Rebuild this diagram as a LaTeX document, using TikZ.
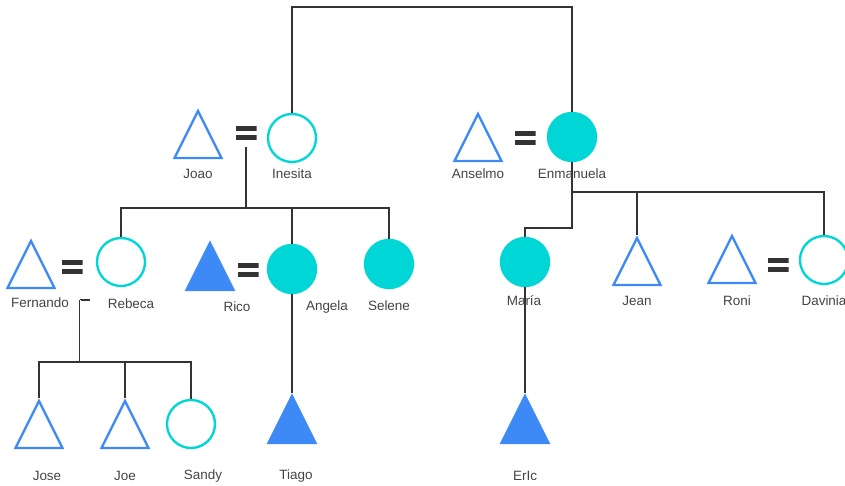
\documentclass[tikz,border=0pt]{standalone}
\usepackage{fontspec}
\setmainfont{Liberation Sans}
\usetikzlibrary{shapes.geometric}
\definecolor{blueM}{RGB}{61,138,247}
\definecolor{cyanF}{RGB}{0,214,214}
\definecolor{linecol}{RGB}{51,51,51}
\definecolor{txtcol}{RGB}{68,68,68}
\tikzset{
  tri/.style={isosceles triangle, isosceles triangle stretches, shape border rotate=90,
    minimum width=1.41cm, minimum height=1.41cm, inner sep=0pt, draw=blueM, line width=2pt},
  trifull/.style={tri, fill=blueM},
  circ/.style={circle, minimum size=1.44cm, inner sep=0pt, draw=cyanF, line width=2pt},
  circfull/.style={circ, fill=cyanF},
  eqsign/.style={rectangle, minimum width=0.63cm, minimum height=0.4cm, inner sep=0pt,
    path picture={
      \fill[linecol] (path picture bounding box.north west) rectangle ([yshift=-0.14cm]path picture bounding box.north east);
      \fill[linecol] (path picture bounding box.south west) rectangle ([yshift=0.14cm]path picture bounding box.south east);}},
  pname/.style={text=txtcol, font=\fontsize{11.5}{13}\selectfont, inner sep=1pt},
  link/.style={draw=linecol, line width=1.2pt}
}
\begin{document}
\begin{tikzpicture}[x=0.03cm, y=-0.03cm]
	\useasboundingbox (0,0) rectangle (845,486);
	% grandparents
	\node[tri] (joao) at (198,143.5) {};
	\node[eqsign] (eq1) at (246,133) {};
	\node[circ] (inesita) at (292,138) {};
	\node[tri] (anselmo) at (478,146.5) {};
	\node[eqsign] (eq2) at (525,138) {};
	\node[circfull] (enmanuela) at (572,137) {};
	% second row
	\node[tri] (fernando) at (31,273.5) {};
	\node[eqsign] (eq3) at (72,267) {};
	\node[circ] (rebeca) at (121,262) {};
	\node[trifull] (rico) at (210,275.5) {};
	\node[eqsign] (eq4) at (248,270) {};
	\node[circfull] (angela) at (292,269) {};
	\node[circfull] (selene) at (389,264) {};
	\node[circfull] (maria) at (525,262) {};
	\node[tri] (jean) at (637,270.5) {};
	\node[tri] (roni) at (732,268.5) {};
	\node[eqsign] (eq5) at (778,265) {};
	\node[circ] (davinia) at (824,260) {};
	% third row
	\node[tri] (jose) at (39,433.5) {};
	\node[tri] (joe) at (125,433.5) {};
	\node[circ] (sandy) at (191,424) {};
	\node[trifull] (tiago) at (292,428.5) {};
	\node[trifull] (eric) at (525,428.5) {};

	% lines
	\draw[link] (inesita) -- (inesita |- 0,7) -| (enmanuela);
	\draw[link] ([yshift=-0.2cm]eq1.south) -- (eq1 |- 0,208);
	\draw[link] (rebeca) -- (rebeca |- 0,208) -| (selene);
	\draw[link] (angela) -- (angela |- 0,208);
	\draw[link] (enmanuela) -- (enmanuela |- 0,192) -| (davinia);
	\draw[link] (jean) -- (jean |- 0,192);
	\draw[link] (enmanuela |- 0,192) -- (enmanuela |- 0,228) -| (maria);
	\draw[link] (angela) -- (tiago);
	\draw[link] (maria) -- (eric);
	\coordinate (fr) at (80,300);
	\draw[link] (fr) -- ++(10,0);
	\draw[link, double=white, double distance=0.8pt, line width=0.8pt] (fr) -- (fr |- 0,362);
	\draw[link] (jose) -- (jose |- 0,362) -| (sandy);
	\draw[link] (joe) -- (joe |- 0,362);

	% names
	\node[pname] (joaoL) at (198,174) {Joao};
	\node[pname] (inesitaL) at (292,174) {Inesita};
	\node[pname] (anselmoL) at (478,174) {Anselmo};
	\node[pname] (enmanuelaL) at (572,174) {Enmanuela};
	\node[pname] (fernandoL) at (40,303) {Fernando};
	\node[pname] (rebecaL) at (131,304) {Rebeca};
	\node[pname] (ricoL) at (237,307) {Rico};
	\node[pname] (angelaL) at (327,307) {Angela};
	\node[pname] (seleneL) at (389,306) {Selene};
	\node[pname] (mariaL) at (524,301) {María};
	\node[pname] (jeanL) at (637,301) {Jean};
	\node[pname] (roniL) at (737,301) {Roni};
	\node[pname] (daviniaL) at (824,301) {Davinia};
	\node[pname] (joseL) at (47,476) {Jose};
	\node[pname] (joeL) at (125,476) {Joe};
	\node[pname] (sandyL) at (203,476) {Sandy};
	\node[pname] (tiagoL) at (296,476) {Tiago};
	\node[pname] (ericL) at (525,476) {ErIc};
\end{tikzpicture}
\end{document}
